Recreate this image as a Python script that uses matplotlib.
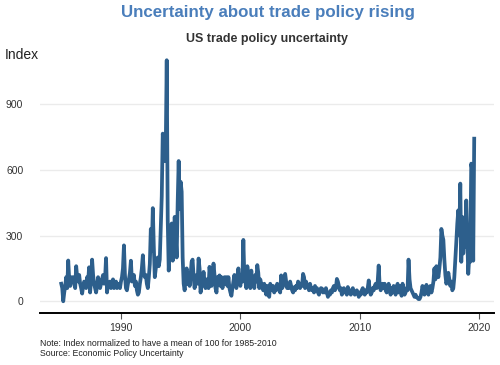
import numpy as np
import matplotlib
matplotlib.use("Agg")
import matplotlib.pyplot as plt

# -------------------------------
# Data: monthly index, Jan 1985 - Aug 2019
# -------------------------------
start_year = 1985

tpu_1985_1989 = [
    80, 60, 0, 40, 70, 110, 60, 186, 100, 70, 110, 90,
    110, 80, 60, 160, 110, 90, 120, 80, 60, 35, 70, 90,
    80, 60, 110, 90, 155, 40, 100, 190, 120, 80, 60, 40,
    70, 110, 90, 60, 80, 100, 120, 80, 100, 197, 40, 80,
    70, 90, 60, 80, 100, 60, 70, 90, 60, 80, 70, 60,
]
tpu_1990_1994 = [
    90, 110, 150, 255, 120, 60, 50, 80, 100, 130, 185, 90,
    100, 120, 70, 90, 50, 30, 40, 80, 110, 150, 210, 130,
    110, 120, 80, 60, 110, 170, 330, 230, 425, 250, 110, 150,
    170, 200, 160, 190, 330, 480, 765, 700, 640, 700, 1100, 370,
    140, 250, 300, 355, 185, 280, 385, 300, 200, 450, 640, 420,
]
tpu_1995_1999 = [
    545, 500, 200, 80, 50, 110, 150, 80, 130, 70, 120, 180,
    190, 110, 60, 90, 120, 80, 195, 150, 40, 70, 90, 134,
    90, 60, 100, 80, 60, 157, 110, 70, 100, 172, 120, 60,
    40, 110, 90, 118, 70, 110, 60, 90, 110, 80, 110, 70,
    110, 60, 40, 25, 60, 90, 120, 80, 60, 110, 150, 90,
]
tpu_2000_2004 = [
    70, 120, 90, 280, 110, 90, 60, 160, 120, 80, 60, 140,
    70, 95, 60, 120, 90, 165, 130, 60, 100, 80, 60, 50,
    80, 50, 30, 70, 40, 20, 80, 60, 50, 70, 40, 60,
    50, 80, 70, 60, 40, 118, 60, 70, 100, 125, 90, 60,
    80, 60, 90, 70, 50, 40, 64, 50, 70, 60, 90, 80,
]
tpu_2005_2009 = [
    60, 80, 70, 125, 110, 60, 90, 70, 65, 50, 80, 60,
    50, 60, 40, 70, 50, 60, 40, 30, 50, 60, 58, 40,
    50, 40, 60, 40, 20, 40, 30, 50, 40, 60, 70, 50,
    60, 102, 90, 70, 50, 60, 30, 40, 60, 50, 40, 30,
    65, 50, 40, 30, 50, 60, 40, 30, 40, 50, 40, 20,
]
tpu_2010_2014 = [
    40, 30, 50, 60, 40, 30, 50, 40, 60, 95, 50, 30,
    40, 60, 50, 70, 80, 60, 90, 163, 70, 50, 60, 80,
    60, 80, 50, 40, 60, 80, 50, 30, 60, 40, 70, 50,
    30, 60, 80, 40, 50, 70, 25, 80, 50, 30, 40, 60,
    50, 190, 100, 60, 50, 40, 30, 20, 30, 20, 15, 10,
]
tpu_2015_2019 = [
    10, 20, 40, 70, 50, 30, 60, 75, 40, 30, 60, 70,
    40, 60, 90, 150, 100, 160, 130, 110, 150, 200, 330, 300,
    280, 190, 120, 80, 100, 130, 100, 70, 90, 50, 60, 110,
    187, 270, 355, 415, 300, 537, 180, 385, 218, 300, 250, 460,
    300, 125, 200, 180, 628, 600, 185, 742,
]

values = (tpu_1985_1989 + tpu_1990_1994 + tpu_1995_1999 + tpu_2000_2004
          + tpu_2005_2009 + tpu_2010_2014 + tpu_2015_2019)
dates = start_year + np.arange(len(values)) / 12

y_ticks = [0, 300, 600, 900]
x_ticks = [1990, 2000, 2010, 2020]

# -------------------------------
# Plot
# -------------------------------
plt.rcParams["font.family"] = ["Liberation Sans", "DejaVu Sans"]

fig = plt.figure(figsize=(5, 3.65), dpi=100)
ax = fig.add_axes([0.08, 0.1416, 0.908, 0.7234])

ax.plot(dates, values, color="#2d5f8c", linewidth=2.7, solid_joinstyle="round")

ax.set_xlim(1983.22, 2021.24)
ax.set_ylim(-55, 1150)
ax.set_yticks(y_ticks)
ax.set_xticks(x_ticks)
ax.tick_params(axis="y", length=0, pad=12, labelsize=7.5, labelcolor="#333333")
ax.tick_params(axis="x", length=4, width=0.8, color="#555555", pad=3,
               labelsize=7.5, labelcolor="#333333")
ax.grid(axis="y", color="#ebebeb", linewidth=1)
ax.set_axisbelow(True)

for side in ["top", "right", "left"]:
    ax.spines[side].set_visible(False)
ax.spines["bottom"].set_linewidth(1.4)
ax.spines["bottom"].set_color("black")

fig.text(0.535, 0.965, "Uncertainty about trade policy rising", ha="center",
         va="center", fontsize=12.2, fontweight="bold", color="#4a7ebb")
fig.text(0.535, 0.893, "US trade policy uncertainty", ha="center",
         va="center", fontsize=9, fontweight="bold", color="#333333")
fig.text(0.01, 0.848, "Index", ha="left", va="center", fontsize=10, color="#222222")
fig.text(0.081, 0.06, "Note: Index normalized to have a mean of 100 for 1985-2010",
         ha="left", va="center", fontsize=6.3, color="#222222")
fig.text(0.081, 0.032, "Source: Economic Policy Uncertainty",
         ha="left", va="center", fontsize=6.3, color="#222222")

fig.savefig("out.png", dpi=100)
